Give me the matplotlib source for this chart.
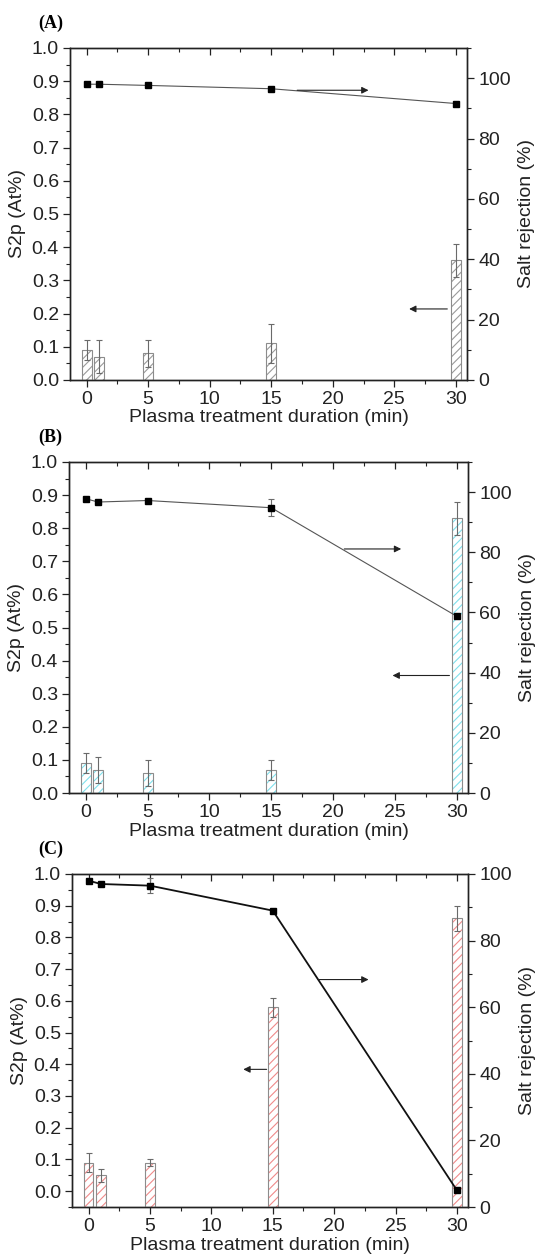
import matplotlib
matplotlib.use("Agg")
import matplotlib.pyplot as plt
from matplotlib.ticker import MultipleLocator

plt.rcParams['font.family'] = ['Liberation Sans', 'DejaVu Sans']
plt.rcParams['hatch.linewidth'] = 0.8

# ---- data ----
durations = [0, 1, 5, 15, 30]

s2p_A = [0.09, 0.07, 0.08, 0.11, 0.36]
s2p_err_A = [0.03, 0.05, 0.04, 0.06, 0.05]
rej_A = [98.0, 98.0, 97.6, 96.5, 91.6]
rej_err_A = [0, 0, 0, 0, 0]

s2p_B = [0.09, 0.07, 0.06, 0.07, 0.83]
s2p_err_B = [0.03, 0.04, 0.04, 0.03, 0.05]
rej_B = [97.8, 96.7, 97.2, 94.8, 58.7]
rej_err_B = [0, 0, 0, 2.9, 0]

s2p_C = [0.09, 0.05, 0.09, 0.58, 0.86]
s2p_err_C = [0.03, 0.02, 0.01, 0.03, 0.04]
rej_C = [98.0, 97.0, 96.5, 89.0, 5.0]
rej_err_C = [0, 0, 2.2, 0, 0]

panel_labels = ['(A)', '(B)', '(C)']
xlabel = 'Plasma treatment duration (min)'
ylabel_left = 'S2p (At%)'
ylabel_right = 'Salt rejection (%)'

W, H = 549, 1259
fig = plt.figure(figsize=(W / 100, H / 100), dpi=100)

def frac_axes(left, top, right, bottom):
    return fig.add_axes([left / W, 1 - bottom / H, (right - left) / W, (bottom - top) / H])

panels = [
    dict(box=(70, 48, 467, 380), s2p=s2p_A, s2p_err=s2p_err_A, rej=rej_A, rej_err=rej_err_A,
         hatch_col='#9a9a9a', line_col='#555555', line_w=0.8, ylim_l=(0, 1.0), ylim_r=(0, 110),
         arr_r=((17.1, 96.0), (22.9, 96.0)), arr_l=((29.3, 0.214), (26.2, 0.214)), lab_y=23),
    dict(box=(69, 462, 468, 793), s2p=s2p_B, s2p_err=s2p_err_B, rej=rej_B, rej_err=rej_err_B,
         hatch_col='#7fe0ec', line_col='#555555', line_w=0.8, ylim_l=(0, 1.0), ylim_r=(0, 110),
         arr_r=((20.9, 81.1), (25.5, 81.1)), arr_l=((29.4, 0.355), (24.8, 0.355)), lab_y=437),
    dict(box=(72, 874, 468, 1207), s2p=s2p_C, s2p_err=s2p_err_C, rej=rej_C, rej_err=rej_err_C,
         hatch_col='#f08a8a', line_col='#111111', line_w=1.3, ylim_l=(-0.05, 1.0), ylim_r=(0, 100),
         arr_r=((18.7, 68.3), (22.8, 68.3)), arr_l=((14.5, 0.384), (12.6, 0.384)), lab_y=849),
]

for i, p in enumerate(panels):
    ax = frac_axes(*p['box'])
    ax2 = ax.twinx()
    base = p['ylim_l'][0]
    heights = [v - base for v in p['s2p']]
    ax.bar(durations, heights, bottom=base, width=0.8, color='white', edgecolor=p['hatch_col'],
           hatch='////', linewidth=0, zorder=2)
    ax.bar(durations, heights, bottom=base, width=0.8, color='none', edgecolor='#8c8c8c',
           linewidth=0.8, zorder=3)
    ax.errorbar(durations, p['s2p'], yerr=p['s2p_err'], fmt='none', ecolor='#6a6a6a',
                elinewidth=0.8, capsize=2.5, capthick=0.8, zorder=4)
    ax2.errorbar(durations, p['rej'], yerr=p['rej_err'], fmt='none', ecolor='#6a6a6a',
                 elinewidth=0.8, capsize=2.5, capthick=0.8, zorder=4)
    ax2.plot(durations, p['rej'], '-', color=p['line_col'], lw=p['line_w'], zorder=5)
    ax2.plot(durations, p['rej'], 's', color='black', ms=4.2, zorder=6, linestyle='none')

    ax.set_xlim(-1.35, 30.9)
    ax.set_ylim(*p['ylim_l'])
    ax2.set_ylim(*p['ylim_r'])
    ax.set_xticks([0, 5, 10, 15, 20, 25, 30])
    ax.xaxis.set_minor_locator(MultipleLocator(2.5))
    ax.set_yticks([round(0.1 * k, 1) for k in range(11)])
    ax.yaxis.set_minor_locator(MultipleLocator(0.05))
    ax2.set_yticks([0, 20, 40, 60, 80, 100])
    ax2.yaxis.set_minor_locator(MultipleLocator(10))
    ax.set_yticklabels([f'{0.1 * k:.1f}' for k in range(11)])

    ax.tick_params(axis='both', which='major', labelsize=14, length=5, width=0.9, direction='out',
                   top=True, colors='#222222', labelcolor='#222222', pad=3)
    ax.tick_params(axis='both', which='minor', length=2.8, width=0.8, direction='out', top=True,
                   colors='#222222')
    ax.tick_params(axis='x', which='both', top=True)
    ax2.tick_params(axis='y', which='major', labelsize=14, length=5, width=0.9, direction='out',
                    colors='#222222', pad=3)
    ax2.tick_params(axis='y', which='minor', length=2.8, width=0.8, direction='out', colors='#222222')
    # top ticks point inward
    for t in ax.xaxis.get_major_ticks() + ax.xaxis.get_minor_ticks():
        t.tick2line.set_marker(3)
    for a in (ax, ax2):
        for s in a.spines.values():
            s.set_linewidth(1.0)
            s.set_color('#222222')

    ax.set_ylabel(ylabel_left, fontsize=14, labelpad=4, color='#222222')
    ax2.set_ylabel(ylabel_right, fontsize=14, labelpad=5, color='#222222')
    ax.set_xlabel(xlabel, fontsize=14, labelpad=1, color='#222222')

    ax2.annotate('', xy=p['arr_r'][1], xytext=p['arr_r'][0], xycoords='data',
                 arrowprops=dict(arrowstyle='-|>', color='#222222', lw=0.8, mutation_scale=10,
                                 shrinkA=0, shrinkB=0), zorder=7)
    ax.annotate('', xy=p['arr_l'][1], xytext=p['arr_l'][0], xycoords='data',
                arrowprops=dict(arrowstyle='-|>', color='#222222', lw=0.8, mutation_scale=10,
                                shrinkA=0, shrinkB=0), zorder=7)
    ax.set_zorder(ax2.get_zorder() - 1)
    ax.patch.set_visible(True)
    ax2.patch.set_visible(False)

    fig.text(38 / W, 1 - p['lab_y'] / H, panel_labels[i], fontsize=13, fontweight='bold',
             family='Liberation Serif', va='center', ha='left')

fig.savefig('out.png', dpi=100)
